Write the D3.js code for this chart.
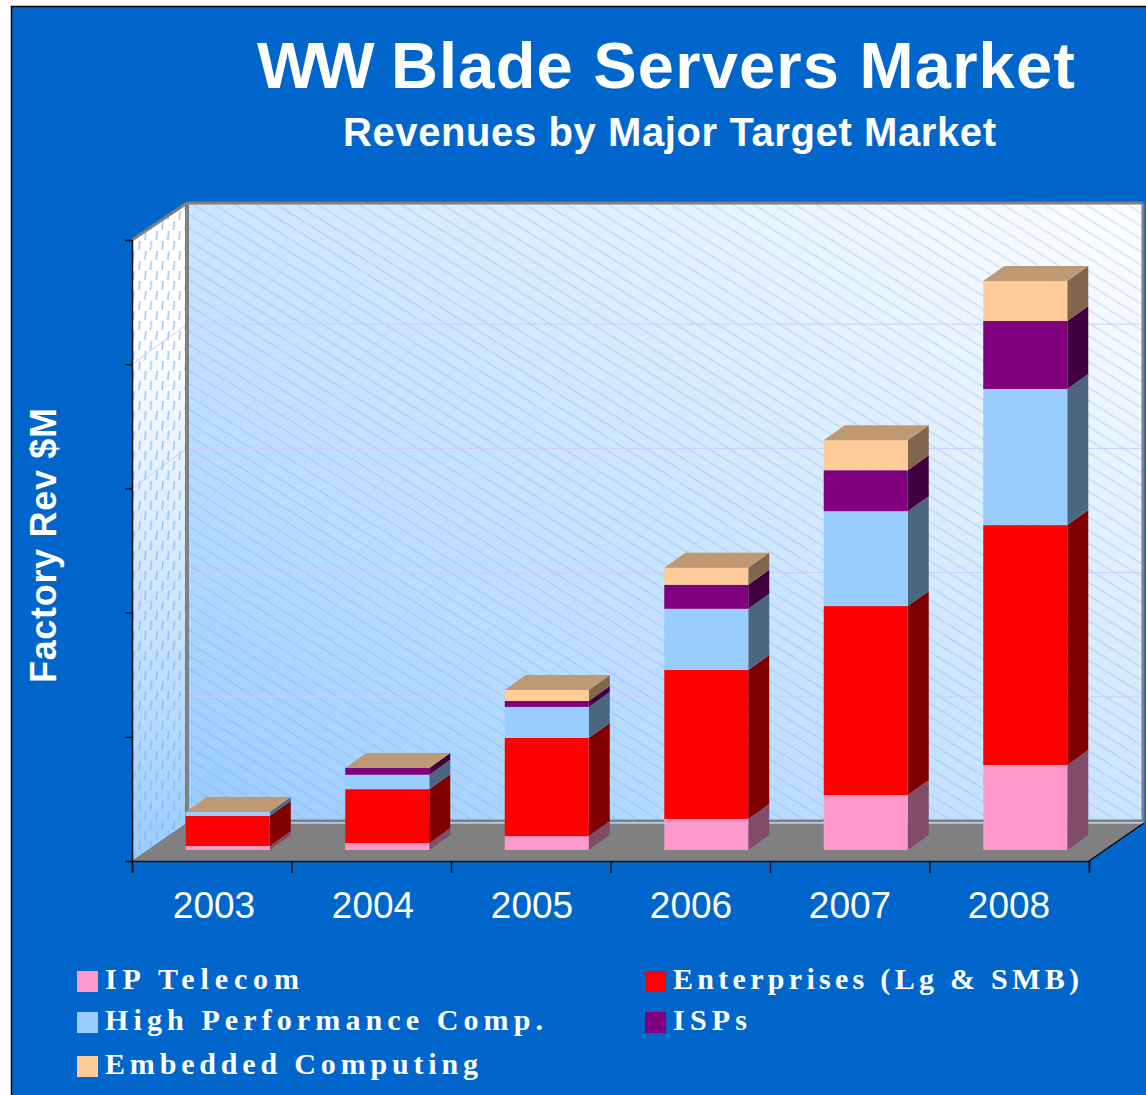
<!DOCTYPE html>
<html>
<head>
<meta charset="utf-8">
<script src="https://cdnjs.cloudflare.com/ajax/libs/d3/7.8.5/d3.min.js"></script>
<style>
  html, body { margin: 0; padding: 0; background: #fff; overflow: hidden; }
  svg { display: block; }
  text { fill: #fff; }
</style>
</head>
<body>
<svg id="chart" width="1146" height="1095"></svg>
<script>
// chart data ($M)
var years = ['2003', '2004', '2005', '2006', '2007', '2008'];
var ipTelecom = [16, 28, 56, 125, 221, 342];
var enterprises = [121, 217, 395, 600, 761, 966];
var highPerf = [16, 58, 125, 246, 382, 548];
var isps = [0, 27, 24, 97, 165, 274];
var embedded = [0, 0, 44, 68, 121, 161];
var seriesNames = ['IP Telecom', 'Enterprises (Lg & SMB)', 'High Performance Comp.', 'ISPs', 'Embedded Computing'];
var seriesColors = ['#FF99CC', '#FF0000', '#99CCFF', '#800080', '#FFCC99'];
var valueTicks = [0, 500, 1000, 1500, 2000, 2500];

// layout
var LEFT = 132, RIGHT = 1089, FLOOR = 861, TOP = 240;
var WALL_DX = 55, WALL_DY = 38, WALL_TOP = 203;
var BAR_WIDTH = 84, BAR_DX = 21, BAR_DY = 15, BAR_BASE = 850, BAR_SHIFT = 16;

var svg = d3.select('#chart');
var defs = svg.append('defs');

var xEdge = d3.scaleLinear().domain([0, years.length]).range([LEFT, RIGHT]);
var xLabel = d3.scaleLinear().domain([0, years.length - 1]).range([214, 1009]);
var yAxisScale = d3.scaleLinear().domain([0, 2500]).range([FLOOR, TOP]);
var yBar = d3.scaleLinear().domain([0, 2500]).range([BAR_BASE, BAR_BASE - (FLOOR - TOP)]);

function gradient(id, units, x1, y1, x2, y2, from, to) {
  var g = defs.append('linearGradient').attr('id', id)
    .attr('gradientUnits', units)
    .attr('x1', x1).attr('y1', y1).attr('x2', x2).attr('y2', y2);
  g.append('stop').attr('offset', 0).attr('stop-color', from);
  g.append('stop').attr('offset', 1).attr('stop-color', to);
}
gradient('backGrad', 'objectBoundingBox', 0, 1, 1, 0, '#99CCFF', '#FFFFFF');
gradient('sideGrad', 'userSpaceOnUse', LEFT, FLOOR, LEFT + WALL_DX, 330, '#99CCFF', '#FFFFFF');

// diagonal hatch on the back wall
var hatch = defs.append('pattern').attr('id', 'hatchBack')
  .attr('patternUnits', 'userSpaceOnUse')
  .attr('width', 40).attr('height', 11)
  .attr('patternTransform', 'rotate(32)');
hatch.append('line').attr('x1', 0).attr('x2', 40).attr('y1', 5).attr('y2', 5)
  .attr('stroke', '#6FA3DC').attr('stroke-opacity', 0.42).attr('stroke-width', 1);

// little dashes on the side wall
var dash = defs.append('pattern').attr('id', 'hatchSide')
  .attr('patternUnits', 'userSpaceOnUse')
  .attr('width', 11.5).attr('height', 20);
[[2, 1], [7.75, 11]].forEach(function(p) {
  dash.append('line')
    .attr('x1', p[0]).attr('y1', p[1]).attr('x2', p[0] - 1).attr('y2', p[1] + 9)
    .attr('stroke', '#7DB2EE').attr('stroke-opacity', 0.8).attr('stroke-width', 1.4);
});

// page background
svg.append('rect').attr('x', 11.5).attr('y', 6.5).attr('width', 1140).attr('height', 1095)
  .attr('fill', '#0066CC').attr('stroke', '#000').attr('stroke-width', 1.5);

// side wall
var sidePts = [[LEFT, FLOOR], [LEFT, TOP], [LEFT + WALL_DX, WALL_TOP], [LEFT + WALL_DX, FLOOR - WALL_DY]];
svg.append('polygon').attr('points', sidePts.join(' ')).attr('fill', 'url(#sideGrad)');
svg.append('polygon').attr('points', sidePts.join(' ')).attr('fill', 'url(#hatchSide)');

// back wall
var backW = RIGHT - LEFT, backH = FLOOR - WALL_DY - WALL_TOP;
svg.append('rect').attr('x', LEFT + WALL_DX).attr('y', WALL_TOP).attr('width', backW).attr('height', backH)
  .attr('fill', 'url(#backGrad)');
svg.append('rect').attr('x', LEFT + WALL_DX).attr('y', WALL_TOP).attr('width', backW).attr('height', backH)
  .attr('fill', 'url(#hatchBack)');

// gridlines, back wall and side wall
var gridVals = valueTicks.slice(1, -1);
svg.selectAll('.gridBack').data(gridVals).enter().append('line')
  .attr('class', 'gridBack')
  .attr('x1', LEFT + WALL_DX).attr('x2', RIGHT + WALL_DX)
  .attr('y1', function(d) { return yAxisScale(d) - 40; })
  .attr('y2', function(d) { return yAxisScale(d) - 40; })
  .attr('stroke', '#CCCCFF').attr('stroke-width', 1);
svg.selectAll('.gridSide').data(gridVals).enter().append('line')
  .attr('class', 'gridSide')
  .attr('x1', LEFT).attr('x2', LEFT + WALL_DX)
  .attr('y1', function(d) { return yAxisScale(d); })
  .attr('y2', function(d) { return yAxisScale(d) - 40; })
  .attr('stroke', '#CCCCFF').attr('stroke-width', 1);

// floor
svg.append('polygon')
  .attr('points', [[LEFT, FLOOR], [RIGHT, FLOOR], [RIGHT + WALL_DX, FLOOR - WALL_DY], [LEFT + WALL_DX, FLOOR - WALL_DY]].join(' '))
  .attr('fill', '#808080');

// wall frame
svg.append('path')
  .attr('d', 'M' + LEFT + ',' + TOP + 'L' + (LEFT + WALL_DX) + ',' + WALL_TOP + 'H' + (RIGHT + WALL_DX - 1))
  .attr('fill', 'none').attr('stroke', '#808080').attr('stroke-width', 3);
svg.append('path')
  .attr('d', 'M' + (LEFT + WALL_DX) + ',' + WALL_TOP + 'V' + (FLOOR - WALL_DY))
  .attr('fill', 'none').attr('stroke', '#808080').attr('stroke-width', 4);
svg.append('path')
  .attr('d', 'M' + (RIGHT + WALL_DX - 1) + ',' + WALL_TOP + 'V' + (FLOOR - WALL_DY - 2) + 'H' + (LEFT + WALL_DX))
  .attr('fill', 'none').attr('stroke', '#808080').attr('stroke-width', 3);
svg.append('line')
  .attr('x1', LEFT + WALL_DX + 2).attr('x2', RIGHT + WALL_DX).attr('y1', FLOOR - WALL_DY).attr('y2', FLOOR - WALL_DY)
  .attr('stroke', '#DCEBFF').attr('stroke-width', 1);

// stacked bars
var rows = years.map(function(y, i) {
  return { year: y, s0: ipTelecom[i], s1: enterprises[i], s2: highPerf[i], s3: isps[i], s4: embedded[i] };
});
var stack = d3.stack().keys(['s0', 's1', 's2', 's3', 's4']);
var layers = stack(rows);

function shade(col, k) {
  var c = d3.rgb(col);
  return d3.rgb(c.r * k, c.g * k, c.b * k).formatHex();
}
function barLeft(i) {
  return xEdge(i + 0.5) + BAR_SHIFT - BAR_WIDTH / 2;
}

layers.forEach(function(layer, s) {
  var g = svg.append('g').attr('class', 'layer');
  var cells = g.selectAll('g').data(layer).enter().append('g');
  cells.append('polygon')
    .attr('points', function(d, i) {
      var x = barLeft(i) + BAR_WIDTH;
      return [[x, yBar(d[0])], [x + BAR_DX, yBar(d[0]) - BAR_DY], [x + BAR_DX, yBar(d[1]) - BAR_DY], [x, yBar(d[1])]].join(' ');
    })
    .attr('fill', shade(seriesColors[s], 0.5));
  cells.append('rect')
    .attr('x', function(d, i) { return barLeft(i); })
    .attr('width', BAR_WIDTH)
    .attr('y', function(d) { return yBar(d[1]); })
    .attr('height', function(d) { return yBar(d[0]) - yBar(d[1]); })
    .attr('fill', seriesColors[s]);
});

// tan lid on each bar
svg.selectAll('.lid').data(layers[4]).enter().append('polygon')
  .attr('class', 'lid')
  .attr('points', function(d, i) {
    var x = barLeft(i), y = yBar(d[1]);
    return [[x, y], [x + BAR_DX, y - BAR_DY], [x + BAR_WIDTH + BAR_DX, y - BAR_DY], [x + BAR_WIDTH, y]].join(' ');
  })
  .attr('fill', shade(seriesColors[4], 0.75));

// axes
var yAxis = d3.axisLeft(yAxisScale).tickValues(valueTicks).tickSize(7).tickFormat('');
var xAxis = d3.axisBottom(xEdge).tickValues(d3.range(years.length + 1)).tickSize(12).tickFormat('');
svg.append('g').attr('transform', 'translate(' + LEFT + ',0)').call(yAxis)
  .selectAll('path,line').attr('stroke', '#111').attr('stroke-width', 1.5);
svg.append('g').attr('transform', 'translate(0,' + FLOOR + ')').call(xAxis)
  .selectAll('path,line').attr('stroke', '#111').attr('stroke-width', 1.5);
svg.append('line')
  .attr('x1', RIGHT).attr('y1', FLOOR).attr('x2', RIGHT + WALL_DX).attr('y2', FLOOR - WALL_DY)
  .attr('stroke', '#000').attr('stroke-width', 1.2);

// year labels
svg.selectAll('.year').data(years).enter().append('text')
  .attr('class', 'year')
  .attr('x', function(d, i) { return xLabel(i); })
  .attr('y', 917.5)
  .attr('text-anchor', 'middle')
  .style('font', '37px "Liberation Sans"')
  .text(function(d) { return d; });

// titles
var title = svg.append('text')
  .attr('x', 257).attr('y', 88)
  .style('font', 'bold 65px "Liberation Sans"')
  .style('letter-spacing', '1.2px');
title.append('tspan').style('letter-spacing', '-5px').text('WW');
title.append('tspan').attr('dx', 2).text(' Blade Servers Market');
svg.append('text')
  .attr('x', 343).attr('y', 146)
  .attr('textLength', 653).attr('lengthAdjust', 'spacing')
  .style('font', 'bold 40px "Liberation Sans"')
  .text('Revenues by Major Target Market');
svg.append('text')
  .attr('transform', 'translate(56,683) rotate(-90)')
  .attr('textLength', 275).attr('lengthAdjust', 'spacing')
  .style('font', 'bold 36px "Liberation Sans"')
  .text('Factory Rev $M');

// legend
var legendX = [77, 645, 77, 645, 77];
var legendY = [971, 971, 1012, 1012, 1056];
var legendLen = [194, 406, 438, 74, 373];
var legend = svg.selectAll('.legend').data(seriesNames).enter().append('g').attr('class', 'legend');
legend.append('rect')
  .attr('x', function(d, i) { return legendX[i]; })
  .attr('y', function(d, i) { return legendY[i]; })
  .attr('width', 21).attr('height', 21)
  .attr('fill', function(d, i) { return seriesColors[i]; });
legend.append('text')
  .attr('x', function(d, i) { return legendX[i] + 28; })
  .attr('y', function(d, i) { return legendY[i] + 18; })
  .attr('textLength', function(d, i) { return legendLen[i]; })
  .attr('lengthAdjust', 'spacing')
  .style('font', 'bold 30px "Liberation Serif"')
  .text(function(d) { return d; });
</script>
</body>
</html>
